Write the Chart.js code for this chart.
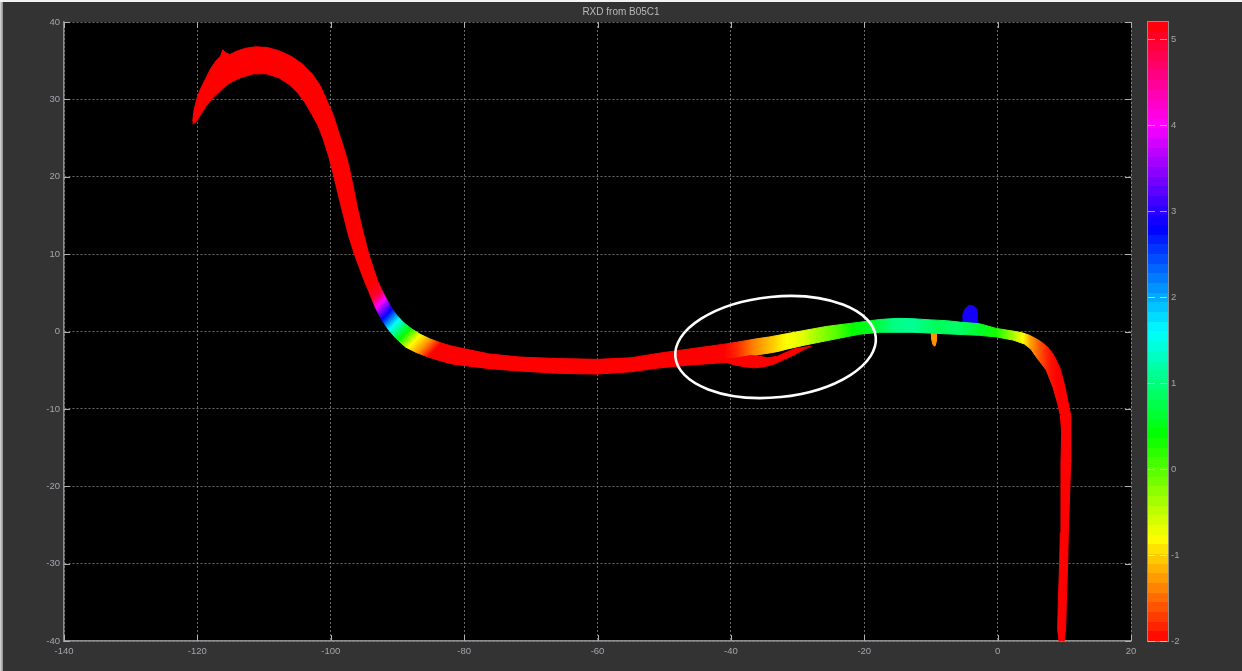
<!DOCTYPE html>
<html>
<head>
<meta charset="utf-8">
<title>RXD from B05C1</title>
<script src="https://cdn.jsdelivr.net/npm/chart.js@4.4.1/dist/chart.umd.min.js"></script>
<style>
  html, body { margin: 0; padding: 0; background: #333333; }
  #wrap { position: relative; width: 1242px; height: 671px; overflow: hidden; }
  #wrap canvas { position: absolute; left: 0; top: 0; }
  .edge-left { position: absolute; left: 0; top: 0; width: 3px; height: 671px; background: linear-gradient(to right, #dcdcdc, #8c8c8c); }
  .edge-top { position: absolute; left: 0; top: 0; width: 1242px; height: 2px; background: #f2f2f2; }
</style>
</head>
<body>
<div id="wrap">
  <canvas id="rxd" width="1242" height="671"></canvas>
  <div class="edge-left"></div>
  <div class="edge-top"></div>
</div>
<script>
// ---- axes ----
const xTicks = [-140, -120, -100, -80, -60, -40, -20, 0, 20];
const yTicks = [-40, -30, -20, -10, 0, 10, 20, 30, 40];
const cbTicks = [-2, -1, 0, 1, 2, 3, 4, 5];
const cbRange = [-2, 5.2];

// ---- envelope of the trace (x, y pairs) ----
// arch and descent: outer edge from the left tip, then inner edge from the left tip
const archOuter = [[-120.7,27.2],[-120.5,28.6],[-120.1,30.0],[-119.6,31.2],[-118.8,32.6],[-118.0,34.0],[-117.1,35.1],[-116.5,35.6],[-116.2,36.4],[-115.7,36.0],[-115.1,35.8],[-114.2,36.2],[-112.8,36.6],[-111.2,36.8],[-109.5,36.7],[-107.8,36.3],[-106.0,35.6],[-104.3,34.6],[-102.8,33.3],[-101.6,31.8],[-100.6,29.9],[-99.6,27.9],[-98.8,25.7],[-98.0,23.6],[-97.3,21.5],[-96.7,19.0],[-96.0,16.0],[-95.2,13.0],[-94.3,10.0],[-93.5,7.9],[-92.9,6.4]];
const archInner = [[-120.7,26.8],[-120.2,27.1],[-119.6,27.9],[-118.8,29.0],[-117.8,30.1],[-116.6,31.1],[-115.2,32.1],[-113.6,32.8],[-111.6,33.3],[-109.6,33.3],[-107.8,32.8],[-106.2,31.9],[-104.9,30.8],[-103.8,29.5],[-102.8,28.0],[-101.9,26.6],[-101.1,24.8],[-100.3,22.6],[-99.6,20.3],[-98.9,17.8],[-98.1,15.0],[-97.3,12.3],[-96.3,9.6],[-95.5,7.8],[-94.9,6.4]];
// bend into the flat part
const bendOuter = [[-92.9,6.4],[-92.3,5.3],[-91.6,4.1],[-91.0,3.2],[-90.1,2.1],[-89.0,1.1],[-87.8,0.3],[-86.5,-0.4],[-85.0,-1.0],[-83.4,-1.5],[-81.8,-1.9]];
const bendInner = [[-94.9,6.4],[-94.3,5.2],[-93.8,4.1],[-93.2,2.9],[-92.4,1.6],[-91.4,0.3],[-90.2,-0.9],[-88.8,-2.0],[-87.2,-2.7],[-85.4,-3.3],[-83.5,-3.8],[-81.8,-4.2]];
// flat part and the final drop
const tailUpper = [[-81.8,-1.9],[-80.2,-2.2],[-76.2,-2.9],[-71.7,-3.3],[-66,-3.5],[-60,-3.6],[-55,-3.4],[-50.7,-2.8],[-45.7,-2.2],[-40.7,-1.6],[-38.2,-1.25],[-36.2,-0.95],[-34.2,-0.7],[-31.7,-0.3],[-29.2,0.1],[-25.7,0.65],[-20.7,1.2],[-17.7,1.55],[-15,1.7],[-12.7,1.65],[-10,1.5],[-7.7,1.4],[-5.5,1.2],[-2.7,1.0],[-0.2,0.4],[2.3,0.05],[3.8,-0.2],[4.8,-0.5],[6.3,-1.2],[7.5,-2.0],[8.3,-2.9],[9.3,-4.6],[10.0,-6.8],[10.5,-8.9],[10.9,-10.6],[11.0,-13],[10.9,-17],[10.8,-21],[10.6,-26],[10.5,-30],[10.3,-35],[10.2,-38.5],[9.9,-40.6]];
const tailLower = [[-81.8,-4.2],[-76.2,-4.8],[-71.7,-5.1],[-66,-5.4],[-60,-5.5],[-55,-5.2],[-50.7,-4.7],[-45.7,-4.3],[-40.7,-4.0],[-38.5,-3.6],[-36.5,-3.1],[-35.2,-2.9],[-34.0,-2.75],[-32.8,-2.55],[-31.7,-2.3],[-29.2,-1.8],[-25.7,-1.2],[-20.7,-0.35],[-17.7,-0.1],[-12.7,-0.1],[-7.7,-0.3],[-2.7,-0.5],[-0.2,-0.7],[2.3,-1.1],[4.0,-1.6],[5.0,-2.3],[5.8,-3.3],[7.3,-5.0],[8.3,-7.2],[9.0,-9.3],[9.4,-10.8],[9.6,-13],[9.5,-17],[9.5,-21],[9.4,-26],[9.3,-30],[9.1,-35],[9.0,-38.5],[9.3,-40.6]];
// second branch under the flat part
const loopOuter = [[-41.0,-3.9],[-39.5,-4.3],[-38.0,-4.55],[-36.5,-4.7],[-35.0,-4.55],[-33.5,-4.2],[-32.0,-3.6],[-30.5,-3.0],[-29.0,-2.3],[-28.0,-1.9]];
const loopInner = [[-41.0,-3.6],[-39.0,-3.4],[-37.0,-3.1],[-35.7,-3.2],[-34.5,-3.4],[-33.0,-3.2],[-32.0,-2.8],[-30.5,-2.25],[-28.0,-1.9]];
// small outliers
const spikeEdge = [[-5.3,0.9],[-5.2,2.2],[-4.9,2.9],[-4.3,3.4],[-3.6,3.3],[-3.2,2.9],[-3.1,1.8],[-2.9,0.9]];
const dripEdge = [[-9.95,-0.2],[-9.9,-1.0],[-9.7,-1.7],[-9.4,-1.9],[-9.2,-1.3],[-9.15,-0.2]];

// ---- RXD value along the trace ----
const archVal = 5.2;
const bendTrackX = [-93.9, -93.1, -92.5, -91.5, -90.3, -88.6, -87.1, -85.6, -84.1, -82.5];
const bendTrackY = [6.4, 4.8, 3.7, 2.3, 1.1, 0.0, -0.9, -1.5, -2.1, -3.0];
const bendTrackVal = [5.2, 5.0, 4.0, 2.8, 1.6, 0.4, -0.8, -1.3, -2.0, -2.0];
const tailTrackX = [-82, -41, -39, -36.7, -34.2, -31.7, -29.2, -26.7, -24.2, -21.7, -18.7, -15.7, -12.7, -9, -6, -2.7, -0.2, 1.3, 2.3, 3.8, 4.8, 6.3, 7.8, 9];
const tailTrackVal = [-2, -2, -1.8, -1.4, -1.1, -0.8, -0.65, -0.3, 0.0, 0.4, 0.6, 1.0, 1.1, 0.8, 0.9, 0.6, 0.3, -0.1, -0.4, -0.8, -1.2, -1.6, -1.9, -2.0];
const loopVal = -2;
const spikeVal = 2.9;
const dripVal = -1.3;

// highlighted region
const ringCenter = [-33.3, -2.0];
const ringRadii = [15.1, 6.5];
const ringTilt = -5.7;

// ---- helpers ----
function hsvColor(v) {
  const t = Math.min(1, Math.max(0, (v - cbRange[0]) / (cbRange[1] - cbRange[0])));
  return `hsl(${(t * 360).toFixed(1)},100%,50%)`;
}
function outline(a, b) {
  return a.concat(b.slice().reverse()).map(([x, y]) => ({ x, y }));
}
// gradient along the chord between the first and last track sample
function trackFill(chart, xs, ys, vals) {
  const sx = chart.scales.x, sy = chart.scales.y;
  if (!chart.chartArea || !sx || !sy) return hsvColor(vals[0]);
  const px = xs.map(v => sx.getPixelForValue(v));
  const py = ys ? ys.map(v => sy.getPixelForValue(v)) : px.map(() => 0);
  const n = px.length - 1;
  const dx = px[n] - px[0], dy = py[n] - py[0];
  const L2 = dx * dx + dy * dy;
  const g = chart.ctx.createLinearGradient(px[0], py[0], px[n], py[n]);
  px.forEach((p, i) => {
    let t = ((p - px[0]) * dx + (py[i] - py[0]) * dy) / L2;
    t = Math.min(1, Math.max(0, t));
    g.addColorStop(t, hsvColor(vals[i]));
  });
  return g;
}
function shape(label, pts, color) {
  return {
    label, data: pts, fill: 'shape',
    backgroundColor: color, borderColor: color, borderWidth: 1,
    pointRadius: 0, pointHoverRadius: 0, tension: 0
  };
}

// ---- plugins ----
const backdrop = {
  id: 'backdrop',
  beforeDraw(chart) {
    const { ctx, chartArea: a } = chart;
    ctx.save();
    ctx.fillStyle = '#333333';
    ctx.fillRect(0, 0, chart.width, chart.height);
    ctx.fillStyle = '#000000';
    ctx.fillRect(a.left, a.top, a.right - a.left, a.bottom - a.top);
    ctx.restore();
  }
};
const innerTicks = {
  id: 'innerTicks',
  afterDatasetsDraw(chart) {
    const { ctx, chartArea: a, scales } = chart;
    ctx.save();
    ctx.strokeStyle = '#b0b0b0';
    ctx.lineWidth = 1;
    ctx.beginPath();
    xTicks.forEach(v => {
      const p = Math.round(scales.x.getPixelForValue(v)) + 0.5;
      ctx.moveTo(p, a.bottom); ctx.lineTo(p, a.bottom - 6);
      ctx.moveTo(p, a.top); ctx.lineTo(p, a.top + 6);
    });
    yTicks.forEach(v => {
      const p = Math.round(scales.y.getPixelForValue(v)) + 0.5;
      ctx.moveTo(a.left, p); ctx.lineTo(a.left + 6, p);
      ctx.moveTo(a.right, p); ctx.lineTo(a.right - 6, p);
    });
    ctx.stroke();
    ctx.restore();
  }
};
const ringMark = {
  id: 'ringMark',
  afterDatasetsDraw(chart) {
    const { x, y } = chart.scales;
    const ctx = chart.ctx;
    const cx = x.getPixelForValue(ringCenter[0]);
    const cy = y.getPixelForValue(ringCenter[1]);
    const rx = Math.abs(x.getPixelForValue(ringCenter[0] + ringRadii[0]) - cx);
    const ry = Math.abs(y.getPixelForValue(ringCenter[1] + ringRadii[1]) - cy);
    ctx.save();
    ctx.strokeStyle = '#ffffff';
    ctx.lineWidth = 2.6;
    ctx.beginPath();
    ctx.ellipse(cx, cy, rx, ry, ringTilt * Math.PI / 180, 0, Math.PI * 2);
    ctx.stroke();
    ctx.restore();
  }
};
const colorbar = {
  id: 'colorbar',
  afterDraw(chart) {
    const s = chart.scales.cb;
    const ctx = chart.ctx;
    const x0 = s.left + 17, w = 20;
    const yTop = s.getPixelForValue(cbRange[1]);
    const yBot = s.getPixelForValue(cbRange[0]);
    const levels = 64;
    const g = ctx.createLinearGradient(0, yBot, 0, yTop);
    for (let i = 0; i < levels; i++) {
      const c = hsvColor(cbRange[0] + (cbRange[1] - cbRange[0]) * (i + 0.5) / levels);
      g.addColorStop(i / levels, c);
      g.addColorStop((i + 1) / levels, c);
    }
    ctx.save();
    ctx.fillStyle = g;
    ctx.fillRect(x0, yTop, w, yBot - yTop);
    ctx.strokeStyle = '#8f8f8f';
    ctx.lineWidth = 1;
    ctx.strokeRect(x0 - 0.5, yTop - 0.5, w + 1, yBot - yTop + 1);
    ctx.setLineDash([7, 5]);
    ctx.strokeStyle = 'rgba(255,255,255,0.55)';
    cbTicks.forEach(v => {
      const yy = Math.round(s.getPixelForValue(v)) + 0.5;
      ctx.beginPath();
      ctx.moveTo(x0, yy);
      ctx.lineTo(x0 + w, yy);
      ctx.stroke();
    });
    ctx.restore();
  }
};

// ---- chart ----
Chart.defaults.font.family = "'Liberation Sans', Arial, sans-serif";
Chart.defaults.font.size = 9.5;
const tickColor = '#a4a4ae';
const gridColor = 'rgba(175,175,175,0.6)';
const axisColor = '#8d8d8d';

new Chart(document.getElementById('rxd'), {
  type: 'line',
  data: {
    datasets: [
      shape('loop', outline(loopOuter, loopInner), hsvColor(loopVal)),
      shape('tail', outline(tailUpper, tailLower), c => trackFill(c.chart, tailTrackX, null, tailTrackVal)),
      shape('bend', outline(bendOuter, bendInner), c => trackFill(c.chart, bendTrackX, bendTrackY, bendTrackVal)),
      shape('arch', outline(archOuter, archInner), hsvColor(archVal)),
      shape('spike', spikeEdge.map(([x, y]) => ({ x, y })), hsvColor(spikeVal)),
      shape('drip', dripEdge.map(([x, y]) => ({ x, y })), hsvColor(dripVal))
    ]
  },
  options: {
    responsive: false,
    devicePixelRatio: 1,
    animation: false,
    events: [],
    layout: { padding: 0 },
    plugins: {
      legend: { display: false },
      tooltip: { enabled: false },
      title: {
        display: true,
        text: 'RXD from B05C1',
        color: '#b9b9b9',
        font: { size: 10, weight: 'normal', lineHeight: 1.2 },
        padding: { top: 6, bottom: 4 }
      }
    },
    scales: {
      x: {
        type: 'linear', min: -140, max: 20,
        afterBuildTicks: s => { s.ticks = xTicks.map(v => ({ value: v })); },
        afterFit: s => { s.height = 30; },
        ticks: { color: tickColor, padding: 5, maxRotation: 0, autoSkip: false },
        grid: { color: gridColor, drawTicks: false, lineWidth: 1 },
        border: { display: true, color: axisColor, width: 1.5, dash: [2, 2] }
      },
      y: {
        type: 'linear', position: 'left', min: -40, max: 40,
        afterBuildTicks: s => { s.ticks = yTicks.map(v => ({ value: v })); },
        afterFit: s => { s.width = 64; },
        ticks: { color: tickColor, padding: 4, autoSkip: false },
        grid: { color: gridColor, drawTicks: false, lineWidth: 1 },
        border: { display: true, color: axisColor, width: 1.5, dash: [2, 2] }
      },
      cb: {
        type: 'linear', position: 'right', min: cbRange[0], max: cbRange[1],
        afterBuildTicks: s => { s.ticks = cbTicks.map(v => ({ value: v })); },
        afterFit: s => { s.width = 111; },
        ticks: { color: tickColor, padding: 3, autoSkip: false },
        grid: { display: false, drawTicks: true, tickLength: 37 },
        border: { display: false }
      }
    }
  },
  plugins: [backdrop, innerTicks, ringMark, colorbar]
});
</script>
</body>
</html>
